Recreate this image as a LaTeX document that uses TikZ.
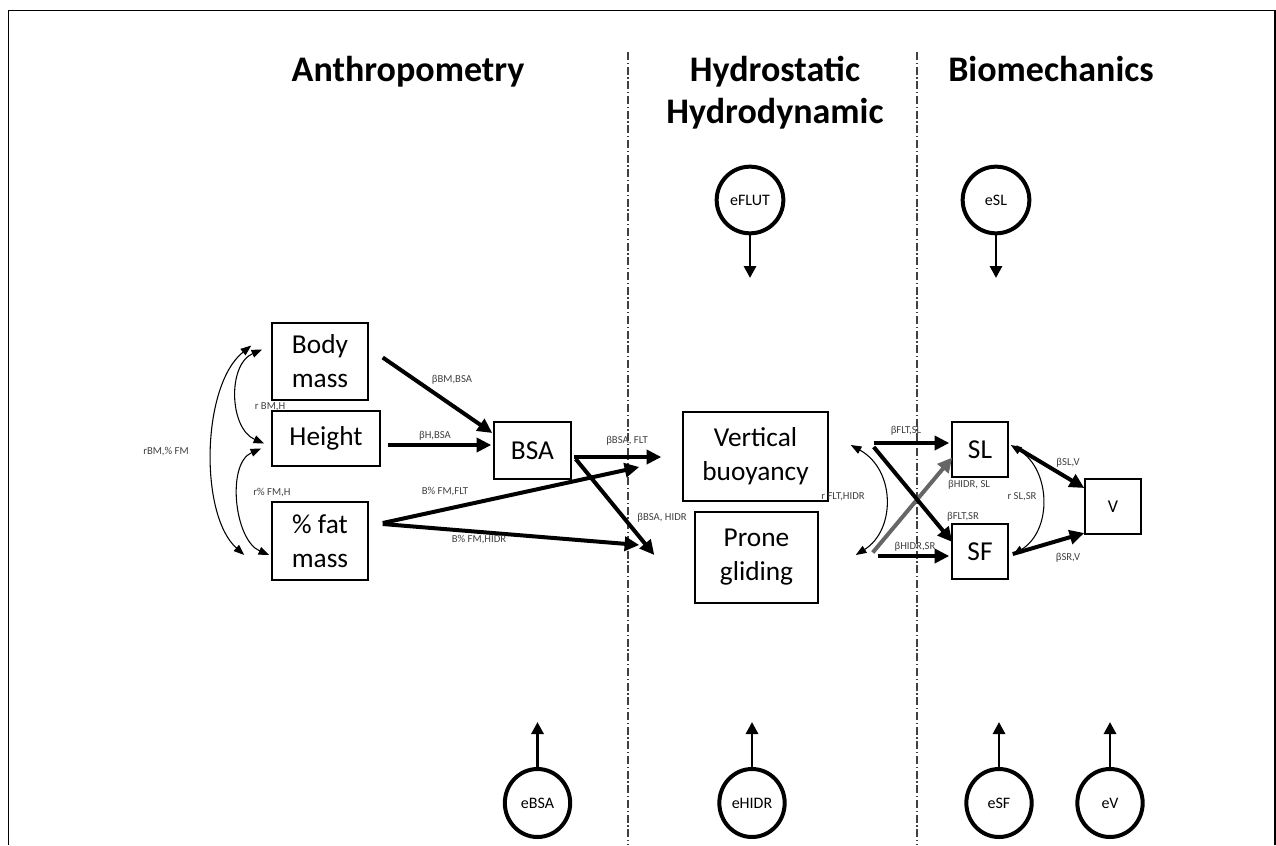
\documentclass[tikz,border=0pt]{standalone}
\usepackage{fontspec}
\setmainfont{Carlito}
\usetikzlibrary{arrows.meta,calc,shapes.geometric}

\tikzset{
  box/.style={draw, line width=1.1pt, align=center, inner sep=0pt, font=\fontsize{20.5}{25.5}\selectfont},
  lbl/.style={font=\fontsize{8}{9}\selectfont, text=black!75, inner sep=0.75pt},
  ecirc/.style={draw, ellipse, line width=3pt, inner sep=0pt, font=\fontsize{12}{14}\selectfont},
  head/.style={font=\fontsize{27}{31}\selectfont\bfseries, inner sep=0pt},
  divider/.style={line width=0.8pt, black!75, dash pattern=on 6pt off 2pt on 1pt off 2pt},
  patharrow/.style={line width=3pt, -{Triangle[length=11pt,width=10.5pt]}},
  errarrow/.style={line width=2.2pt, -{Triangle[length=9pt,width=9pt]}},
  corrarrow/.style={line width=0.8pt, {Triangle[length=8pt,width=6pt]}-{Triangle[length=8pt,width=6pt]}},
}

\begin{document}
\begin{tikzpicture}[x=0.75pt,y=0.75pt,yscale=-1,xscale=1]
\useasboundingbox (0,0) rectangle (1276,845);
%Frame
\draw [line width=0.8pt] (8.5,845) -- (8.5,10.5) -- (1275,10.5) -- (1275,845);
%Dividers
\draw [divider] (628,52) -- (628,845);
\draw [divider] (917,52) -- (917,845);
% Headings
\draw (408,82) node [head, anchor=base] (hanthro) {Anthropometry};
\draw (775,82) node [head, anchor=base] (hhydro) {Hydrostatic};
\draw (775,124) node [head, anchor=base] (hhydrob) {Hydrodynamic};
\draw (1051,82) node [head, anchor=base] (hbio) {Biomechanics};

% Boxes
\draw (320,361.5) node [box, minimum width=72pt, minimum height=57.75pt] (bm) {Body\\mass};
\draw (326,438.5) node [box, minimum width=81pt, minimum height=41.25pt] (ht) {Height};
\draw (320,541) node [box, minimum width=72pt, minimum height=58.5pt] (fm) {\% fat\\mass};
\draw (532.5,450.5) node [box, minimum width=57.75pt, minimum height=42.75pt] (bsa) {BSA};
\draw (755.5,456.5) node [box, minimum width=108.75pt, minimum height=66.75pt] (vb) {Vertical\\buoyancy};
\draw (756.5,557.5) node [box, minimum width=92.25pt, minimum height=68.25pt] (pg) {Prone\\gliding};
\draw (980,449.5) node [box, minimum width=42pt, minimum height=41.25pt] (sl) {SL};
\draw (980,551.5) node [box, minimum width=42pt, minimum height=41.25pt] (sf) {SF};
\draw (1113,506.5) node [box, minimum width=42pt, minimum height=41.25pt, font=\fontsize{13.5}{16}\selectfont] (v) {V};

% Error terms
\draw (750,200) node [ecirc, minimum size=50pt] (eflut) {eFLUT};
\draw (996,200) node [ecirc, minimum size=50pt] (esl) {eSL};
\draw (537.5,803) node [ecirc, minimum width=49pt, minimum height=51pt] (ebsa) {eBSA};
\draw (752,803) node [ecirc, minimum width=49pt, minimum height=51pt] (ehidr) {eHIDR};
\draw (999,803) node [ecirc, minimum width=49pt, minimum height=51pt] (esf) {eSF};
\draw (1110,803) node [ecirc, minimum width=49pt, minimum height=51pt] (ev) {eV};
\coordinate (eflutend) at (750,278);
\coordinate (eslend) at (996,278);
\coordinate (ebsaend) at (537.5,722);
\coordinate (ehidrend) at (752,722);
\coordinate (esfend) at (999,722);
\coordinate (evend) at (1110,722);
\draw [errarrow] (eflut) -- (eflutend);
\draw [errarrow] (esl) -- (eslend);
\draw [errarrow] (ebsa) -- (ebsaend);
\draw [errarrow] (ehidr) -- (ehidrend);
\draw [errarrow] (esf) -- (esfend);
\draw [errarrow] (ev) -- (evend);

% Correlations
\draw [corrarrow] ($(bm.west)+(-20,-16)$) .. controls +(-50,40) and +(-45,-40) .. ($(fm.west)+(-27,14)$);
\draw [corrarrow] ($(bm.west)+(-9,-12)$) .. controls +(-35,15) and +(-35,-15) .. ($(ht.west)+(-7,5)$);
\draw [corrarrow] ($(ht.west)+(-10,10)$) .. controls +(-35,15) and +(-35,-15) .. ($(fm.west)+(-2,14)$);
\draw [corrarrow] ($(vb.east)+(22,-11.5)$) .. controls +(45,25) and +(40,-25) .. ($(pg.east)+(37,-2.5)$);
\draw [corrarrow] ($(sl.east)+(2,-4.5)$) .. controls +(40,25) and +(40,-25) .. ($(sf.east)+(4,3.5)$);

% Paths
\draw [patharrow] ($(bm.east)+(14,-4)$) -- ($(bsa.west)+(-1,-17.5)$);
\draw [patharrow] ($(ht.east)+(7,6.5)$) -- ($(bsa.west)+(-2,-5.5)$);
\draw [patharrow] ($(fm.east)+(14,-18)$) -- ($(vb.west)+(-43,10.5)$);
\draw [patharrow] ($(fm.east)+(14,-17)$) -- ($(pg.west)+(-55,-12.5)$);
\draw [patharrow] ($(bsa.east)+(2,6.5)$) -- ($(vb.west)+(-21,0.5)$);
\draw [patharrow] ($(bsa.east)+(4,8.5)$) -- ($(pg.west)+(-40,-2.5)$);
\coordinate (flt) at ($(vb.east)+(45,-13.5)$);
\coordinate (hidr) at ($(pg.east)+(56,-3)$);
\draw [patharrow, black!60] ($(hidr)+(-2,-2)$) -- ($(sl.west)+(1,8)$);
\draw [patharrow] (flt) -- ($(sl.west)+(-2,-6.5)$);
\draw [patharrow] ($(flt)+(0,4)$) -- ($(sf.west)+(1,-9.5)$);
\draw [patharrow] ($(hidr)+(3,1.5)$) -- ($(sf.west)+(-2,4.5)$);
\draw [patharrow] ($(sl.east)+(7,-2.5)$) -- ($(v.west)+(0,-18.5)$);
\draw [patharrow] ($(sf.east)+(4,2.5)$) -- ($(v.west)+(0,26.5)$);

% Labels
\draw (166,452) node [lbl] (lrbmfm) {rBM,\% FM};
\draw (270,407) node [lbl] (lrbmh) {r BM,H};
\draw (272,493) node [lbl] (lrfmh) {r\% FM,H};
\draw (452,380) node [lbl] (lbmbsa) {βBM,BSA};
\draw (435,436) node [lbl] (lhbsa) {βH,BSA};
\draw (445,492) node [lbl] (lfmflt) {B\% FM,FLT};
\draw (479,540) node [lbl] (lfmhidr) {B\% FM,HIDR};
\draw (627,441) node [lbl] (lbsaflt) {βBSA, FLT};
\draw (662,518) node [lbl] (lbsahidr) {βBSA, HIDR};
\draw (843,497) node [lbl] (lrflthidr) {r FLT,HIDR};
\draw (906,431) node [lbl] (lfltsl) {βFLT,SL};
\draw (969,485) node [lbl] (lhidrsl) {βHIDR, SL};
\draw (963,517) node [lbl] (lfltsr) {βFLT,SR};
\draw (915,547) node [lbl] (lhidrsr) {βHIDR,SR};
\draw (1022,497) node [lbl] (lrslsr) {r SL,SR};
\draw (1068,463) node [lbl] (lslv) {βSL,V};
\draw (1068,558) node [lbl] (lsrv) {βSR,V};
\end{tikzpicture}
\end{document}
